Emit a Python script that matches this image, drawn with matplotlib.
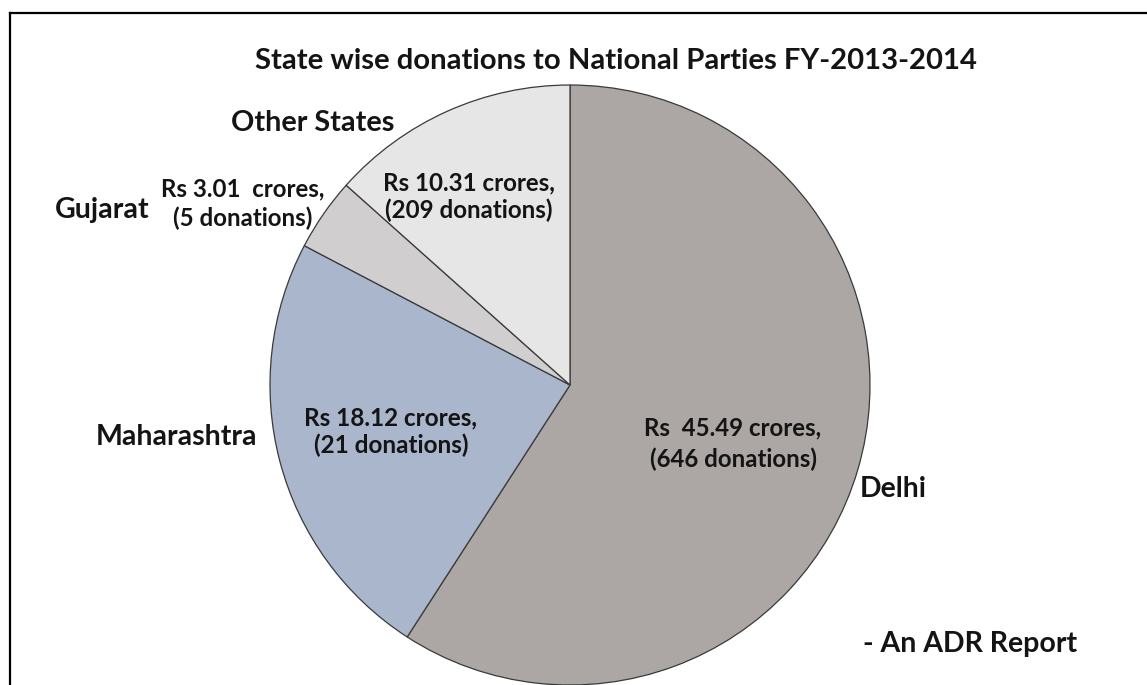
import matplotlib
matplotlib.use("Agg")
import matplotlib.pyplot as plt
from matplotlib.lines import Line2D

states = ["Delhi", "Maharashtra", "Gujarat", "Other States"]
amounts = [45.49, 18.12, 3.01, 10.31]
donations = [646, 21, 5, 209]
colors = ["#aca7a4", "#a9b6cb", "#d0cecf", "#e6e6e6"]
amount_lines = ["Rs  45.49 crores,", "Rs 18.12 crores,", "Rs 3.01  crores,", "Rs 10.31 crores,"]
donation_lines = ["(646 donations)", "(21 donations)", "(5 donations)", "(209 donations)"]
title = "State wise donations to National Parties FY-2013-2014"
note = "- An ADR Report"

plt.rcParams['font.family'] = ['Lato', 'DejaVu Sans']
W, H = 1147, 685
fig = plt.figure(figsize=(W / 100, H / 100), dpi=100)
ax = fig.add_axes([0, 0, 1, 1])

ax.pie(amounts, colors=colors, startangle=90, counterclock=False,
       center=(570, H - 385), radius=300,
       wedgeprops=dict(edgecolor='#3a3a3a', linewidth=0.9))
ax.set_xlim(0, W)
ax.set_ylim(0, H)
ax.set_aspect('auto')
ax.axis('off')

# frame (top and left edges visible)
ax.add_line(Line2D([10, W], [H - 13, H - 13], color='black', lw=1.6, clip_on=False))
ax.add_line(Line2D([10, 10], [H - 13, 0], color='black', lw=1.6, clip_on=False))

renderer = fig.canvas.get_renderer()
TXT = '#141414'


def put(x, base_y, s, size, ha='center'):
    return ax.text(x, H - base_y, s, fontsize=size, fontweight='bold', ha=ha,
                   va='baseline', color=TXT)


def fitted_size(s, target_w, start=16):
    t = ax.text(0, 0, s, fontsize=start, fontweight='bold')
    size = start
    for _ in range(3):
        t.set_fontsize(size)
        w = t.get_window_extent(renderer).width
        size = size * target_w / w
    t.remove()
    return size


# title
put(616, 69, title, fitted_size(title, 722))

# category labels
s_other = fitted_size(states[3], 163)
s_guj = fitted_size(states[2], 95)
s_del = fitted_size(states[0], 67)
s_cat = (s_other + s_guj + s_del) / 3
put(313, 131, states[3], s_other)
put(102, 218, states[2], s_guj)
put(257, 445, states[1], s_cat, ha='right')
put(893, 497, states[0], s_del)

# value labels: (center x, baseline line1, baseline line2, target width line1)
value_pos = [
    (733, 435, 467, 177),
    (391, 425, 453, 173),
    (243, 196, 226, 163),
    (469, 190, 218, 172),
]
for i, (cx, b1, b2, tw) in enumerate(value_pos):
    sz = fitted_size(amount_lines[i], tw)
    put(cx, b1, amount_lines[i], sz)
    put(cx, b2, donation_lines[i], sz)

put(970, 652, note, fitted_size(note, 214))

fig.savefig("out.png", dpi=100)
